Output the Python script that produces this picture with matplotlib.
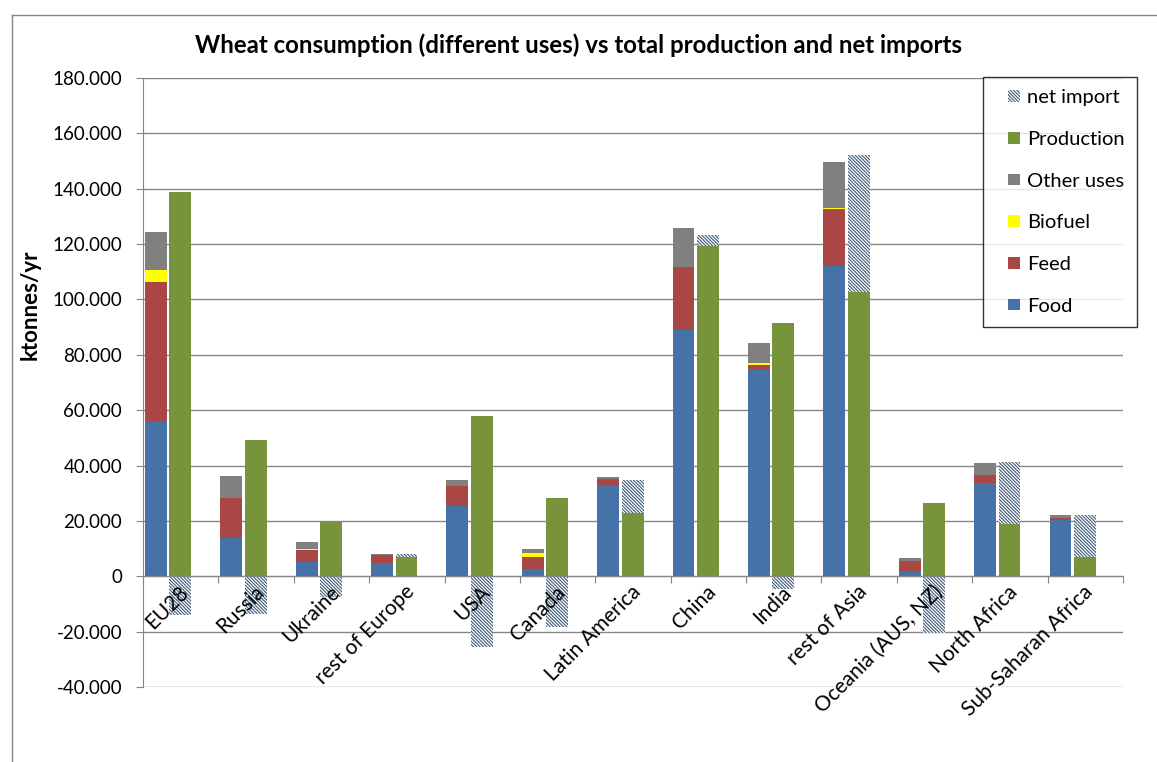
import numpy as np
import matplotlib.pyplot as plt
from matplotlib.lines import Line2D
from matplotlib.patches import Patch, Rectangle
from matplotlib.legend_handler import HandlerPatch
from matplotlib.ticker import FuncFormatter

plt.rcParams["font.family"] = ["Lato", "DejaVu Sans"]
plt.rcParams["hatch.linewidth"] = 0.8

regions = ["EU28", "Russia", "Ukraine", "rest of Europe", "USA", "Canada",
           "Latin America", "China", "India", "rest of Asia", "Oceania (AUS, NZ)",
           "North Africa", "Sub-Saharan Africa"]

# ktonnes/yr
food = np.array([56100, 14000, 5200, 4800, 25300, 2500, 32900, 88900, 74900, 112000, 1900, 33700, 20500])
feed = np.array([50300, 14300, 4200, 3000, 7200, 4500, 2300, 22900, 1500, 20600, 3600, 3000, 600])
biofuel = np.array([4400, 0, 300, 0, 0, 1300, 0, 0, 500, 600, 0, 0, 0])
other = np.array([13600, 7800, 2600, 300, 2200, 1500, 800, 13900, 7200, 16500, 1200, 4300, 1200])
production = np.array([138900, 49200, 19600, 6800, 57800, 28400, 22900, 119300, 91500, 102700, 26500, 18800, 7000])
net_import = np.array([-14000, -13700, -7500, 1300, -25500, -18300, 11800, 3900, -4500, 49400, -20500, 22500, 15000])

c_food = "#4572a7"
c_feed = "#aa4643"
c_bio = "#ffff00"
c_other = "#808080"
c_prod = "#77933c"
c_hatch = "#3f5a7a"
hatch = "\\" * 10

x = np.arange(len(regions))
w = 0.29

fig = plt.figure(figsize=(11.57, 7.62), dpi=100)
ax = fig.add_axes([143 / 1157, 1 - 687 / 762, (1123 - 143) / 1157, (687 - 78) / 762])

ax.grid(axis="y", color="#868686", linewidth=1, zorder=0)

# consumption stack (left bar)
xl = x - 0.33
ax.bar(xl, food, w, color=c_food, zorder=3)
ax.bar(xl, feed, w, bottom=food, color=c_feed, zorder=3)
ax.bar(xl, biofuel, w, bottom=food + feed, color=c_bio, zorder=3)
ax.bar(xl, other, w, bottom=food + feed + biofuel, color=c_other, zorder=3)

# production + net import (right bar)
xr = x - 0.005
ax.bar(xr, production, w, color=c_prod, zorder=3)
ax.bar(xr, net_import, w, bottom=np.where(net_import > 0, production, 0),
       facecolor="white", edgecolor=c_hatch, hatch=hatch, linewidth=0, zorder=3)

ax.set_xlim(-0.5, len(regions) - 0.5)
ax.set_ylim(-40000, 180000)
ax.set_yticks(np.arange(-40000, 180001, 20000))
ax.yaxis.set_major_formatter(FuncFormatter(lambda v, p: f"{v:,.0f}".replace(",", ".")))
ax.tick_params(axis="y", length=5, color="#868686", labelsize=13.5, pad=10)

ax.spines["bottom"].set_position(("data", 0))
ax.spines["bottom"].set_color("#868686")
ax.spines["bottom"].set_zorder(4)
ax.spines["left"].set_color("#868686")
ax.spines["top"].set_visible(False)
ax.spines["right"].set_visible(False)
ax.set_xticks(np.arange(-0.5, len(regions), 1.0))
ax.set_xticklabels([])
ax.tick_params(axis="x", length=5, color="#868686")

for i, name in enumerate(regions):
    ax.text(i - 0.03, -2000, name, rotation=45, rotation_mode="anchor",
            ha="right", va="top", fontsize=15, zorder=5)

fig.text(30 / 1157, 1 - 305 / 762, "ktonnes/yr", rotation=90, ha="center", va="center",
         fontsize=16, fontweight="bold")

fig.suptitle("Wheat consumption (different uses) vs total production and net imports",
             x=0.5, y=1 - 45 / 762, va="center", fontsize=17.3, fontweight="bold")


def small_square(legend, orig_handle, xdescent, ydescent, width, height, fontsize):
    s = 8.5
    return Rectangle((width - s - xdescent, (height - s) / 2 - ydescent), s, s)


handles = [
    Patch(facecolor="white", edgecolor=c_hatch, hatch=hatch, linewidth=0, label="net import"),
    Patch(facecolor=c_prod, label="Production"),
    Patch(facecolor=c_other, label="Other uses"),
    Patch(facecolor=c_bio, label="Biofuel"),
    Patch(facecolor=c_feed, label="Feed"),
    Patch(facecolor=c_food, label="Food"),
]
leg = fig.legend(handles=handles, loc="upper right", bbox_to_anchor=(1137 / 1157, 1 - 77 / 762),
                 handler_map={Patch: HandlerPatch(patch_func=small_square)},
                 fontsize=14.5, frameon=True, fancybox=False, edgecolor="black",
                 handlelength=1.24, handleheight=0.7, handletextpad=0.35,
                 labelspacing=1.22, borderpad=0.6, borderaxespad=0)
leg.get_frame().set_linewidth(1.0)

# chart area border
fig.add_artist(Line2D([12 / 1157, 12 / 1157], [0, 1 - 15 / 762], transform=fig.transFigure,
                      color="#868686", linewidth=1))
fig.add_artist(Line2D([12 / 1157, 1], [1 - 15 / 762, 1 - 15 / 762], transform=fig.transFigure,
                      color="#868686", linewidth=1))

fig.savefig("out.png", dpi=100)
